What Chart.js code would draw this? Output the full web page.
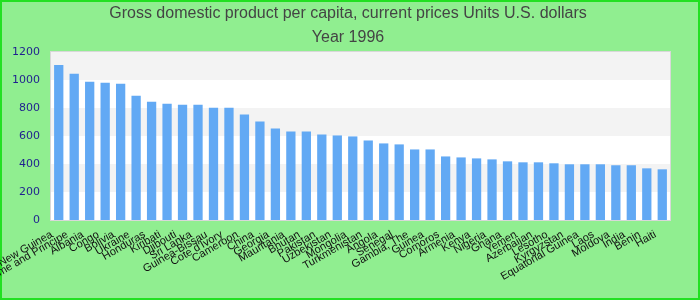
<!DOCTYPE html>
<html>
<head>
<meta charset="utf-8">
<script src="https://cdn.jsdelivr.net/npm/chart.js@4/dist/chart.umd.min.js"></script>
<style>
  body { margin: 0; background: #90ee90; }
  #wrap { width: 700px; height: 300px; }
</style>
</head>
<body>
<div id="wrap"><canvas id="gdp"></canvas></div>
<script>
// GDP per capita 1996
const countries = [
    "Papua New Guinea", "Sao Tome and Principe", "Albania", "Congo", "Bolivia",
    "Ukraine", "Honduras", "Kiribati", "Djibouti", "Sri Lanka",
    "Guinea-Bissau", "Cote d'Ivory", "Cameroon", "China", "Georgia",
    "Mauritania", "Bhutan", "Pakistan", "Uzbekistan", "Mongolia",
    "Turkmenistan", "Angola", "Senegal", "Gambia, The", "Guinea",
    "Comoros", "Armenia", "Kenya", "Nigeria", "Ghana",
    "Yemen", "Azerbaijan", "Lesotho", "Kyrgyzstan", "Equatorial Guinea",
    "Laos", "Moldova", "India", "Benin", "Haiti"
];
const gdpValues = [
    1108, 1044, 987, 980, 973,
    888, 845, 831, 824, 824,
    802, 802, 753, 703, 653,
    632, 632, 611, 604, 597,
    568, 547, 540, 504, 504,
    454, 447, 440, 433, 419,
    412, 412, 405, 398, 398,
    398, 391, 391, 369, 362
];
const yTicks = [0, 200, 400, 600, 800, 1000, 1200];
// bands with grey fill (from, to)
const greyBands = [[200, 400], [600, 800], [1000, 1200]];

// fond vert + bandes dans la zone du graphe
const backdropPlugin = {
    id: 'backdrop',
    beforeDraw(chart) {
        const ctx = chart.ctx;
        const area = chart.chartArea;
        const y = chart.scales.y;
        ctx.save();
        ctx.fillStyle = '#90ee90';
        ctx.fillRect(0, 0, chart.width, chart.height);
        ctx.strokeStyle = '#22e022';
        ctx.lineWidth = 2;
        ctx.strokeRect(1, 1, chart.width - 2, chart.height - 2);
        ctx.fillStyle = '#ffffff';
        ctx.fillRect(area.left, area.top, area.right - area.left, area.bottom - area.top);
        ctx.fillStyle = '#f3f3f3';
        greyBands.forEach(b => {
            const top = y.getPixelForValue(b[1]);
            const bot = y.getPixelForValue(b[0]);
            ctx.fillRect(area.left, top, area.right - area.left, bot - top);
        });
        ctx.strokeStyle = '#d8d8d8';
        ctx.lineWidth = 1;
        ctx.strokeRect(area.left - 0.5, area.top - 0.5, area.right - area.left + 1, area.bottom - area.top + 1);
        ctx.restore();
    }
};

new Chart(document.getElementById('gdp'), {
    type: 'bar',
    data: {
        labels: countries,
        datasets: [{
            label: 'GDP per capita',
            data: gdpValues,
            backgroundColor: '#62a9f4',
            borderWidth: 0,
            categoryPercentage: 0.6,
            barPercentage: 1.0
        }]
    },
    options: {
        responsive: true,
        maintainAspectRatio: false,
        animation: false,
        layout: { padding: { left: 0, right: 4, top: 0, bottom: 0 } },
        plugins: {
            legend: { display: false },
            tooltip: { enabled: false },
            title: {
                display: true,
                text: ['Gross domestic product per capita, current prices Units U.S. dollars', 'Year 1996'],
                color: '#444444',
                font: { family: '"Liberation Sans", Arial, sans-serif', size: 16, weight: 'normal', lineHeight: 1.5 },
                padding: { top: 2, bottom: 2 }
            }
        },
        scales: {
            x: {
                grid: { display: false, drawTicks: false },
                border: { display: false },
                ticks: {
                    autoSkip: false,
                    minRotation: 30,
                    maxRotation: 30,
                    padding: 8,
                    labelOffset: -7,
                    color: '#111111',
                    font: { family: '"Liberation Sans", Arial, sans-serif', size: 11 }
                },
                afterFit(scale) {
                    scale.height = 80;
                    scale.paddingLeft = 0;
                    scale.paddingRight = 30;
                }
            },
            y: {
                min: 0,
                max: 1200,
                grid: { display: false, drawTicks: false },
                border: { display: false },
                afterBuildTicks(scale) {
                    scale.ticks = yTicks.map(v => ({ value: v }));
                },
                ticks: {
                    padding: 11,
                    color: '#1f1f8f',
                    font: { family: '"DejaVu Sans", sans-serif', size: 11 },
                    callback: v => String(v)
                },
                afterFit(scale) {
                    scale.width = 51;
                }
            }
        }
    },
    plugins: [backdropPlugin]
});
</script>
</body>
</html>
